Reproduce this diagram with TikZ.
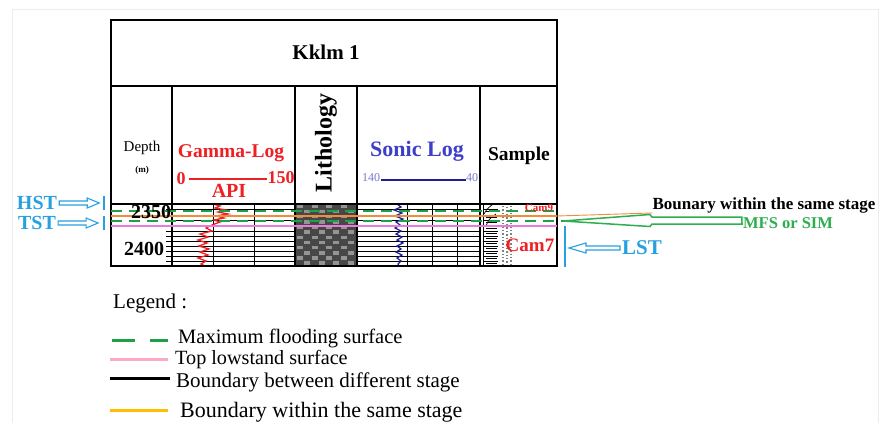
\documentclass[tikz,border=0pt]{standalone}
\usepackage{fontspec}
\setmainfont{Liberation Serif}
\usetikzlibrary{calc}
\definecolor{gred}{RGB}{238,32,36}
\definecolor{sblue}{RGB}{62,62,200}
\definecolor{dblue}{RGB}{30,30,150}
\definecolor{lblue}{RGB}{120,120,210}
\definecolor{skyb}{RGB}{38,160,225}
\definecolor{mgreen}{RGB}{30,160,70}
\definecolor{lgreen}{RGB}{45,175,80}
\definecolor{pinkl}{RGB}{235,120,220}
\definecolor{orangel}{RGB}{240,140,60}
\definecolor{legorange}{RGB}{255,190,0}
\definecolor{legpink}{RGB}{250,170,200}
\newcommand{\fsz}[1]{\fontsize{#1}{#1}\selectfont}
\begin{document}
\begin{tikzpicture}[x=1pt,y=-1pt,
  txt/.style={inner sep=0pt},
  frame/.style={line width=1.8pt, black},
  col/.style={line width=1.2pt, black},
  rowline/.style={line width=0.9pt, black},
  hollow/.style={draw=skyb, line width=1.1pt, line join=miter},
  mfsline/.style={mgreen, line width=2.2pt, dash pattern=on 11pt off 7pt},
  legsym/.style={line width=3pt}
]
\useasboundingbox (0,0) rectangle (882,423);
\fill[white] (0,0) rectangle (882,423);
\draw[gray!15, line width=0.6pt] (12,423) -- (12,9) -- (878,9) -- (878,423);

% ---------- lithology checker ----------
\fill[black!72] (295,204) rectangle (357,266);
\foreach \i in {0,...,11}{
  \foreach \j in {0,...,7}{
    \pgfmathtruncatemacro\m{mod(\i+\j,2)}
    \ifnum\m=0
      \fill[black!42] (297+\j*7.25,204.5+\i*5.17) rectangle ++(6.2,3.6);
    \fi
  }
}

% ---------- row lines ----------
\foreach \y in {209,215,220,226,231,236,241,246,251,256,261}{
  \draw[rowline] (172,\y) -- (295,\y);
  \draw[rowline] (357,\y) -- (480,\y);
  \draw[rowline] (166,\y) -- (172,\y);
  \draw[line width=0.8pt] (484,\y) -- (498,\y);
  \draw[line width=0.6pt] (486,\y+2.5) -- (497,\y+2.5);
}
\foreach \x in {213,254}{ \draw[rowline] (\x,204) -- (\x,266); }
\foreach \x in {407,432,457}{ \draw[rowline] (\x,204) -- (\x,266); }

% sample column texture
\draw[line width=0.7pt] (484,214) .. controls (487,209) .. (493,204);
\draw[line width=0.7pt] (486,226) .. controls (489,219) .. (496,214);
\draw[line width=0.7pt] (483,204) -- (483,266);
\draw[gray, line width=1.4pt, dotted] (503,206) -- (503,266);
\draw[gray, line width=1.4pt, dotted] (507,207) -- (507,266);
\draw[gray, line width=1.4pt, dotted] (511,206) -- (511,266);

% ---------- logs ----------
\draw[gred, line width=1.3pt] (213,204) -- (220,206) -- (215,208) -- (226,210) -- (218,212) -- (228,214) -- (216,216) -- (224,218) -- (214,220) -- (220,222) -- (212,225) -- (206,228) -- (212,231) -- (200,234) -- (208,237) -- (198,240) -- (207,243) -- (199,246) -- (209,249) -- (200,252) -- (208,255) -- (198,258) -- (206,261) -- (201,264) -- (205,266);
\draw[dblue, line width=1.2pt] (397,204) -- (401,207) -- (394,210) -- (402,213) -- (395,216) -- (403,219) -- (396,222) -- (400,225) -- (395,228) -- (401,231) -- (396,234) -- (402,237) -- (397,240) -- (403,243) -- (397,246) -- (401,249) -- (396,252) -- (402,255) -- (397,258) -- (401,261) -- (398,264) -- (399,266);

% ---------- table frame ----------
\draw[frame] (111,20) rectangle (557,266);
\draw[frame] (111,86) -- (557,86);
\draw[frame] (111,204) -- (557,204);
\foreach \x in {172,295,357,480}{ \draw[col] (\x,86) -- (\x,266); }

% ---------- coloured surfaces ----------
\draw[mfsline] (111,211) -- (557,211);
\draw[mfsline] (111,221) -- (563,221);
\draw[orangel, line width=1.5pt] (111,216) -- (557,216);
\draw[pinkl, line width=1.2pt] (111,226) -- (557,226);

% ---------- header texts ----------
\node[txt, font=\bfseries\fsz{21}] (title) at (326,52) {Kklm 1};
\node[txt, font=\fsz{15}] (depth) at (142,148) {Depth};
\node[txt, font=\bfseries\fsz{9}] (munit) at (142,170) {(m)};
\node[txt, font=\bfseries\fsz{19.5}, text=gred] (gamma) at (231,153) {Gamma-Log};
\node[txt, font=\bfseries\fsz{18}, text=gred] (g0) at (181,179) {0};
\node[txt, font=\bfseries\fsz{18}, text=gred] (g150) at (281,178) {150};
\draw[gred, line width=1.6pt] (g0.east) ++(3,0) coordinate (gl) -- (g150.west |- gl);
\node[txt, font=\bfseries\fsz{20}, text=gred] (api) at (229,191) {API};
\node[txt, font=\bfseries\fsz{24}, rotate=90] (litho) at (326,143) {Lithology};
\node[txt, font=\bfseries\fsz{22}, text=sblue] (sonic) at (417,151) {Sonic Log};
\node[txt, font=\fsz{12}, text=lblue] (s140) at (371,178) {140};
\node[txt, font=\fsz{12}, text=lblue] (s40) at (472,178) {40};
\draw[dblue, line width=1.2pt] (s140.east) ++(1,2) coordinate (sl) -- (s40.west |- sl);
\node[txt, font=\bfseries\fsz{19.5}] (sample) at (519,156) {Sample};

% ---------- data texts ----------
\node[txt, font=\bfseries\fsz{20}] (d2350) at (151,212) {2350};
\node[txt, font=\bfseries\fsz{20}] (d2400) at (144,249) {2400};
\node[txt, font=\bfseries\fsz{11}, text=gred] (cam9) at (539,208) {Cam9};
\node[txt, font=\bfseries\fsz{19}, text=gred] (cam7) at (530,245) {Cam7};

% ---------- system tract labels ----------
\node[txt, font=\bfseries\fsz{20}, text=skyb] (hst) at (37,203) {HST};
\node[txt, font=\bfseries\fsz{20}, text=skyb] (tst) at (37,223) {TST};
\node[txt, font=\bfseries\fsz{21}, text=skyb] (lst) at (642,248) {LST};

\draw[hollow] (hst.east) ++(2,-2) -- ++(28,0) -- ++(0,-3) -- ++(12,5) -- ++(-12,5) -- ++(0,-3) -- ++(-28,0) -- cycle;
\coordinate (hbar) at (104,203);
\draw[skyb, line width=1.4pt] (hbar) ++(0,-7) -- ++(0,14);
\draw[hollow] (tst.east) ++(2,-2) -- ++(28,0) -- ++(0,-3) -- ++(12,5) -- ++(-12,5) -- ++(0,-3) -- ++(-28,0) -- cycle;
\coordinate (tbar) at (104,223);
\draw[skyb, line width=1.4pt] (tbar) ++(0,-7) -- ++(0,14);

\coordinate (lsttop) at (565,226);
\coordinate (lstbot) at (565,267);
\draw[skyb, line width=1.6pt] (lsttop) -- (lstbot);
\draw[hollow] (lst.west) ++(-2,-2) -- ++(-34,0) -- ++(0,-3) -- ++(-17,5) -- ++(17,5) -- ++(0,-3) -- ++(34,0) -- cycle;

% ---------- right annotations ----------
\node[txt, font=\bfseries\fsz{17}] (bnd) at (764,205) {Bounary within the same stage};
\node[txt, font=\bfseries\fsz{16.5}, text=lgreen] (mfs) at (788,223) {MFS or SIM};
\draw[orangel, line width=0.9pt] (557,216) -- (bnd.south west);
\coordinate (gtip) at (563,221);
\draw[lgreen, line width=1.5pt, fill=white, line join=miter] (mfs.west) ++(-1,-6) -- ++(-90,0) -- ++(-2,-2.5) -- (gtip) -- ++(87,5.5) -- ++(2,-2.5) -- ++(90,0) -- cycle;

% ---------- legend ----------
\node[txt, font=\fsz{21}, anchor=base west] (legend) at (113,308) {Legend :};
\draw[legsym, mgreen] (112,340) -- (135,340);
\draw[legsym, mgreen] (150,340) -- (168,340);
\node[txt, font=\fsz{20.5}, anchor=base west] (l1) at (178,343) {Maximum flooding surface};
\draw[legsym, legpink] (110,359) -- (168,359);
\node[txt, font=\fsz{20.2}, anchor=base west] (l2) at (175,364) {Top lowstand surface};
\draw[legsym, black] (110,378) -- (170,378);
\node[txt, font=\fsz{21}, anchor=base west] (l3) at (176,387) {Boundary between different stage};
\draw[legsym, legorange] (110,410) -- (168,410);
\node[txt, font=\fsz{22}, anchor=base west] (l4) at (180,417) {Boundary within the same stage};
\end{tikzpicture}
\end{document}
